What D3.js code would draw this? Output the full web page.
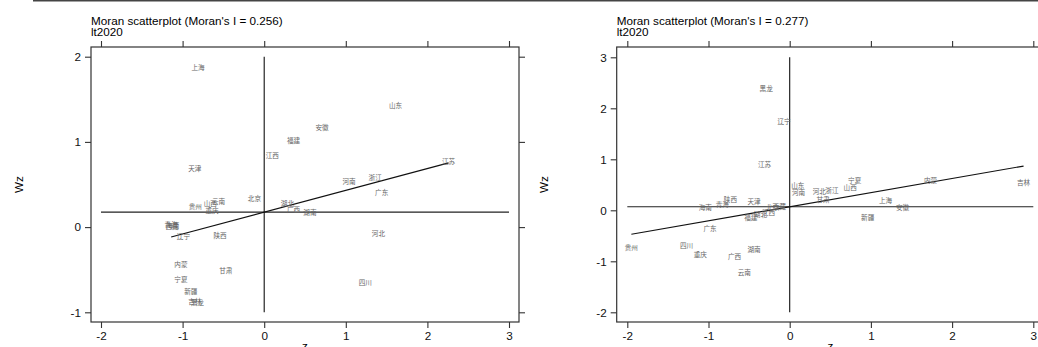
<!DOCTYPE html>
<html>
<head>
<meta charset="utf-8">
<script src="https://cdn.jsdelivr.net/npm/d3@7"></script>
<style>
  body { margin: 0; background: #fff; }
  svg { display: block; }
</style>
</head>
<body>
<div id="chart"></div>
<script>
// province labels (same order in both panels)
const provinces = ['北京', '天津', '河北', '山西', '内蒙', '辽宁', '吉林', '黑龙', '上海', '江苏',
  '浙江', '安徽', '福建', '江西', '山东', '河南', '湖北', '湖南', '广东', '广西', '海南',
  '重庆', '四川', '贵州', '云南', '西藏', '陕西', '甘肃', '青海', '宁夏', '新疆'];

// left panel: standardized value z and spatial lag Wz
const leftZ = [-0.12, -0.85, 1.40, -0.66, -1.02, -0.99, -0.85, -0.82, -0.81, 2.26,
  1.36, 0.71, 0.36, 0.10, 1.61, 1.04, 0.285, 0.56, 1.44, 0.36, -1.12,
  -0.64, 1.24, -0.845, -0.56, -1.13, -0.54, -0.47, -1.14, -1.02, -0.90];
const leftWz = [0.33, 0.69, -0.08, 0.28, -0.44, -0.11, -0.87, -0.89, 1.875, 0.77,
  0.58, 1.17, 1.01, 0.84, 1.42, 0.53, 0.27, 0.165, 0.40, 0.21, 0.02,
  0.19, -0.65, 0.24, 0.30, 0.01, -0.10, -0.51, 0.03, -0.62, -0.76];

// right panel
const rightZ = [-0.21, -0.44, 0.365, 0.745, 1.735, -0.07, 2.88, -0.29, 1.18, -0.31,
  0.52, 1.39, -0.48, -0.26, 0.10, 0.11, -0.36, -0.44, -0.98, -0.68, -1.04,
  -1.10, -1.27, -1.95, -0.56, -0.13, -0.73, 0.41, -0.83, 0.80, 0.96];
const rightWz = [0.05, 0.17, 0.365, 0.45, 0.59, 1.74, 0.55, 2.39, 0.18, 0.89,
  0.385, 0.06, -0.15, -0.05, 0.48, 0.345, -0.09, -0.78, -0.37, -0.90, 0.06,
  -0.87, -0.70, -0.73, -1.22, 0.08, 0.215, 0.215, 0.11, 0.575, -0.14];

const moranI = [0.256, 0.277];
const meanWz = [0.176, 0.07];
const variableName = 'lt2020';

const xTicks = [-2, -1, 0, 1, 2, 3];
const leftYTicks = [-1, 0, 1, 2];
const rightYTicks = [-2, -1, 0, 1, 2, 3];

const width = 1038, height = 347;
const latin = 'Arial, "Liberation Sans", Helvetica, sans-serif';
const cjk = '"Noto Sans CJK SC", "Noto Sans", sans-serif';
const fs = 11.7;

const svg = d3.select('#chart').append('svg')
  .attr('width', width)
  .attr('height', height);

// rule across the top of the figure
svg.append('line')
  .attr('x1', 33).attr('x2', width)
  .attr('y1', 0.6).attr('y2', 0.6)
  .attr('stroke', '#444')
  .attr('stroke-width', 1.6);

const panels = [
  {
    z: leftZ, wz: leftWz, I: moranI[0], mean: meanWz[0], yTicks: leftYTicks,
    box: { left: 91, right: 519, top: 47, bottom: 322 },
    xRange: [101, 509], yRange: [312.3, 56.7], ylabelX: 22.5,
  },
  {
    z: rightZ, wz: rightWz, I: moranI[1], mean: meanWz[1], yTicks: rightYTicks,
    box: { left: 616.7, right: 1044, top: 47, bottom: 322 },
    xRange: [627.3, 1033.3], yRange: [312.3, 57.3], ylabelX: 548,
  },
];

// plain hyphen for negatives, like the original
const tickLabel = d => String(d);

panels.forEach((p) => {
  const g = svg.append('g');
  const b = p.box;

  const x = d3.scaleLinear()
    .domain(d3.extent(xTicks))
    .range(p.xRange);

  const y = d3.scaleLinear()
    .domain(d3.extent(p.yTicks))
    .range(p.yRange);

  // title + variable
  g.append('text')
    .attr('x', b.left).attr('y', 25)
    .attr('font-family', latin).attr('font-size', fs)
    .text(`Moran scatterplot (Moran's I = ${p.I.toFixed(3)})`);
  g.append('text')
    .attr('x', b.left).attr('y', 36)
    .attr('font-family', latin).attr('font-size', fs)
    .text(variableName);

  // axes on all four sides
  const axes = [
    { ax: d3.axisBottom(x).tickValues(xTicks), t: `translate(0,${b.bottom})`, labels: true },
    { ax: d3.axisTop(x).tickValues(xTicks), t: `translate(0,${b.top})`, labels: false },
    { ax: d3.axisLeft(y).tickValues(p.yTicks), t: `translate(${b.left},0)`, labels: true },
    { ax: d3.axisRight(y).tickValues(p.yTicks), t: `translate(${b.right},0)`, labels: false },
  ];
  axes.forEach((a) => {
    const ag = g.append('g')
      .attr('transform', a.t)
      .call(a.ax.tickSizeOuter(0).tickSize(6).tickPadding(a.labels ? 4 : 0)
        .tickFormat(a.labels ? tickLabel : ''));
    ag.select('.domain').remove();
    ag.selectAll('line').attr('stroke', '#333').attr('stroke-width', 1.1);
    ag.selectAll('text')
      .attr('font-family', latin)
      .attr('font-size', fs)
      .attr('fill', '#111');
  });

  // plot frame
  g.append('rect')
    .attr('x', b.left).attr('y', b.top)
    .attr('width', b.right - b.left)
    .attr('height', b.bottom - b.top)
    .attr('fill', 'none')
    .attr('stroke', '#333')
    .attr('stroke-width', 1.2);

  // axis titles
  g.append('text')
    .attr('transform', `translate(${p.ylabelX},${(b.top + b.bottom) / 2}) rotate(-90)`)
    .attr('text-anchor', 'middle')
    .attr('font-family', latin).attr('font-size', fs)
    .text('Wz');
  g.append('text')
    .attr('x', (b.left + b.right) / 2).attr('y', 350)
    .attr('text-anchor', 'middle')
    .attr('font-family', latin).attr('font-size', fs)
    .text('z');

  // reference lines at mean z and mean Wz
  g.append('line')
    .attr('x1', x(0)).attr('x2', x(0))
    .attr('y1', y(d3.min(p.yTicks))).attr('y2', y(d3.max(p.yTicks)))
    .attr('stroke', '#111').attr('stroke-width', 1.1);
  g.append('line')
    .attr('x1', x(d3.min(xTicks))).attr('x2', x(d3.max(xTicks)))
    .attr('y1', y(p.mean)).attr('y2', y(p.mean))
    .attr('stroke', '#222').attr('stroke-width', 1.1);

  // fitted line over the data range
  const zExt = d3.extent(p.z);
  g.append('path')
    .datum(zExt)
    .attr('fill', 'none')
    .attr('stroke', '#111')
    .attr('stroke-width', 1.2)
    .attr('d', d3.line().x(d => x(d)).y(d => y(p.mean + p.I * d)));

  // province labels as markers
  g.append('g').selectAll('text')
    .data(provinces)
    .join('text')
    .attr('x', (d, i) => x(p.z[i]))
    .attr('y', (d, i) => y(p.wz[i]))
    .attr('dy', '0.35em')
    .attr('text-anchor', 'middle')
    .attr('font-family', cjk)
    .attr('font-size', 6.6)
    .attr('fill', '#666')
    .text(d => d);
});
</script>
</body>
</html>
